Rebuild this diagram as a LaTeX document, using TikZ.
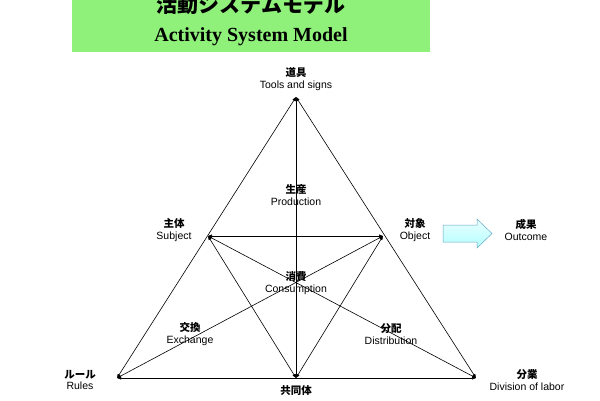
\documentclass[tikz,border=0pt]{standalone}
\usepackage{fontspec}
\setmainfont{Liberation Sans}
\newfontfamily\cjk{Noto Sans CJK JP}
\newfontfamily\titleserif{Liberation Serif}
\usetikzlibrary{arrows.meta}
\definecolor{banner}{HTML}{8FF07A}
\begin{document}
\begin{tikzpicture}[x=1pt,y=-1pt,
  lab/.style={align=center,font=\fontsize{10.5}{11.5}\selectfont,inner sep=0pt},
  edge/.style={{Triangle[length=4pt,width=3pt]}-{Triangle[length=4pt,width=3pt]},line width=0.6pt}]
\useasboundingbox (0,0) rectangle (600,400);
\fill[banner] (72,0) rectangle (430,52);
\node[font=\cjk\bfseries\fontsize{21}{21}\selectfont,inner sep=0pt] (t1) at (251,4) {活動システムモデル};
\node[font=\titleserif\bfseries\fontsize{20}{20}\selectfont,inner sep=0pt] (t2) at (251,37) {Activity System Model};
\coordinate (A) at (296,97);
\coordinate (S) at (208,236);
\coordinate (O) at (383,236);
\coordinate (R) at (117,378);
\coordinate (M) at (296,378);
\coordinate (D) at (476,378);
\draw[edge] (A) -- (R);
\draw[edge] (A) -- (D);
\draw[edge] (R) -- (D);
\draw[edge] (S) -- (O);
\draw[edge] (S) -- (M);
\draw[edge] (O) -- (M);
\draw[edge] (A) -- (M);
\draw[edge] (S) -- (D);
\draw[edge] (R) -- (O);
\node[lab] (l1) at (296,79) {{\cjk\bfseries 道具}\\Tools and signs};
\node[lab] (l2) at (296,195) {{\cjk\bfseries 生産}\\Production};
\node[lab] (l3) at (174,230) {{\cjk\bfseries 主体}\\Subject};
\node[lab] (l4) at (415,230) {{\cjk\bfseries 対象}\\Object};
\node[lab] (l5) at (296,283) {{\cjk\bfseries 消費}\\Consumption};
\node[lab] (l6) at (190,334) {{\cjk\bfseries 交換}\\Exchange};
\node[lab] (l7) at (391,334) {{\cjk\bfseries 分配}\\Distribution};
\node[lab] (l8) at (80,380) {{\cjk\bfseries ルール}\\Rules};
\node[lab] (l9) at (296,391) {\cjk\bfseries 共同体};
\node[lab] (l10) at (527,380) {{\cjk\bfseries 分業}\\Division of labor};
\node[lab] (l11) at (526,230) {{\cjk\bfseries 成果}\\Outcome};
\draw[draw=cyan!50!gray,top color=cyan!8,bottom color=cyan!30,line width=0.5pt]
  (443,225) -- (477,225) -- (477,219) -- (492,233.5) -- (477,248) -- (477,242) -- (443,242) -- cycle;
\end{tikzpicture}
\end{document}
